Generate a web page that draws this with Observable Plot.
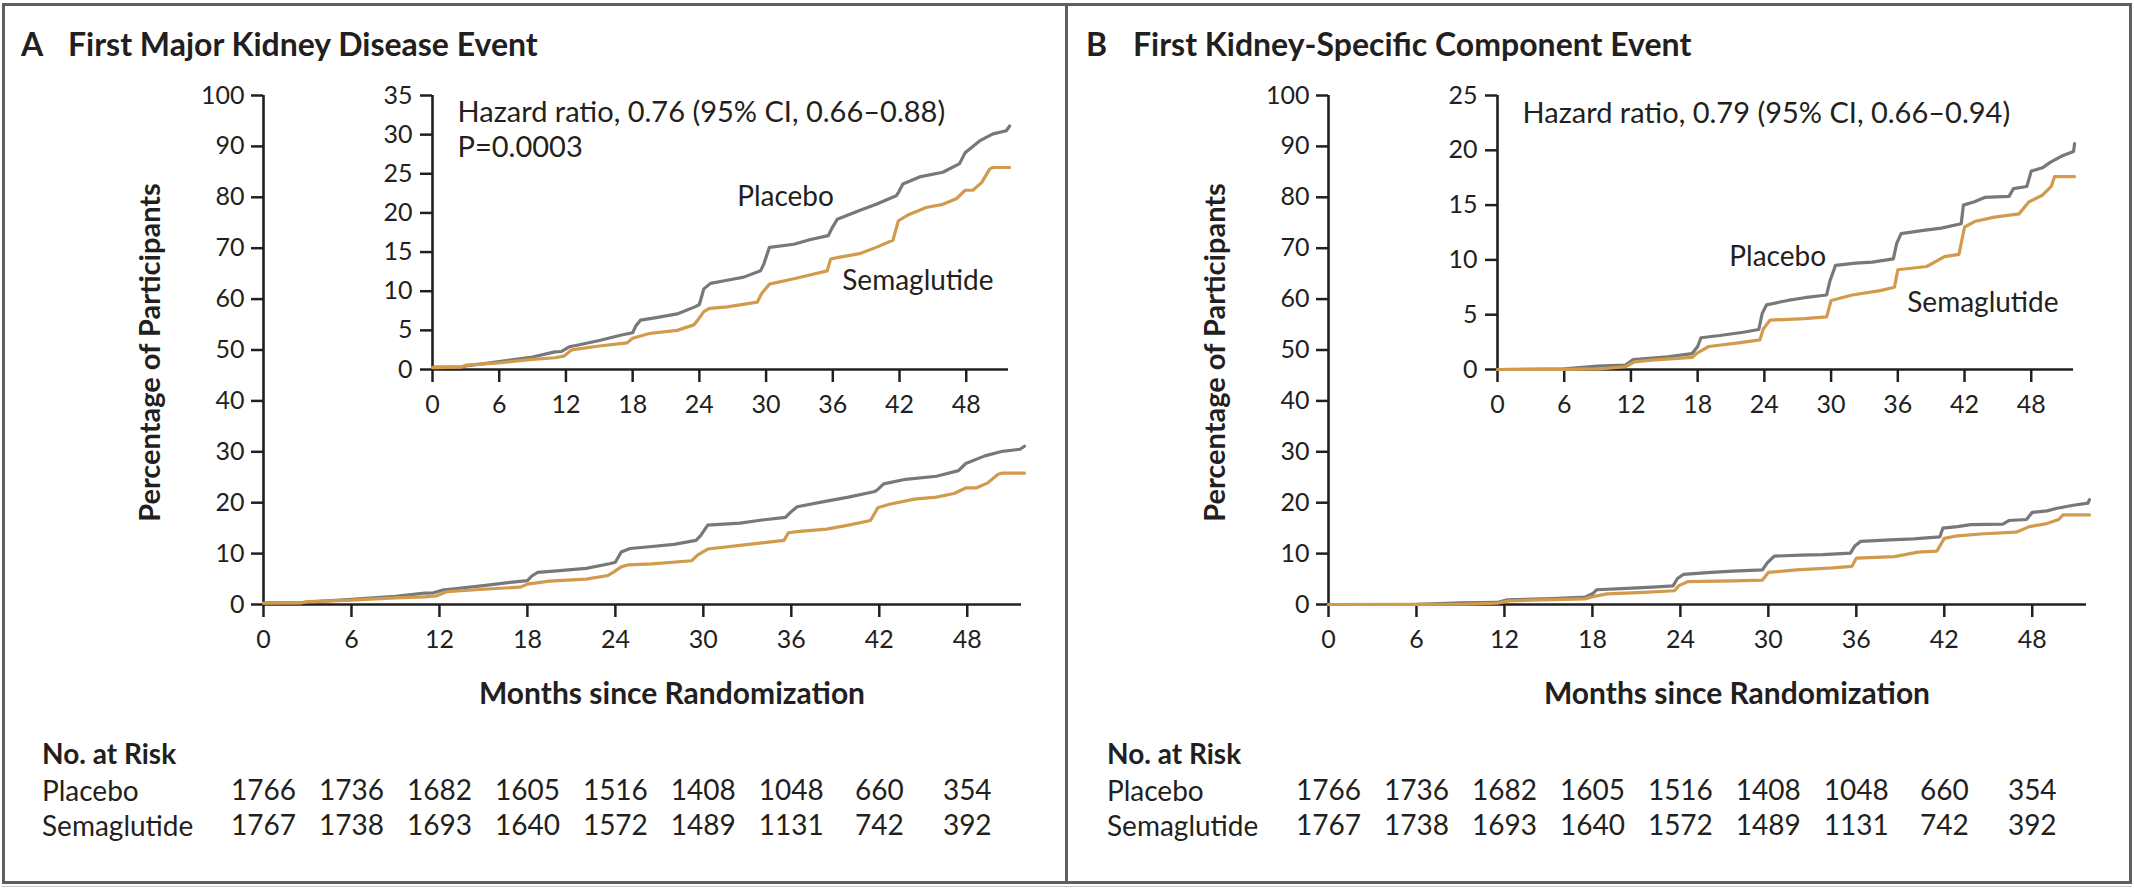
<!DOCTYPE html>
<html>
<head>
<meta charset="utf-8">
<script src="https://cdn.jsdelivr.net/npm/d3@7"></script>
<script src="https://cdn.jsdelivr.net/npm/@observablehq/plot@0.6"></script>
<style>
  body { margin: 0; background: #fff; }
  #fig { position: relative; width: 2134px; height: 890px; overflow: hidden; background: #fff;
         font-family: Lato, "Open Sans", sans-serif; color: #231f20; }
  .t { position: absolute; white-space: nowrap; line-height: 1; }
  .b { font-weight: 700; }
  .rule { position: absolute; background: #5e5e5e; }
</style>
</head>
<body>
<div id="fig"></div>
<script>
// ---------------- data ----------------
const riskMonths = [0, 6, 12, 18, 24, 30, 36, 42, 48];
const riskPlacebo = [1766, 1736, 1682, 1605, 1516, 1408, 1048, 660, 354];
const riskSemaglutide = [1767, 1738, 1693, 1640, 1572, 1489, 1131, 742, 392];

const xTicks = [0, 6, 12, 18, 24, 30, 36, 42, 48];
const mainYTicks = [0, 10, 20, 30, 40, 50, 60, 70, 80, 90, 100];
const insetYTicksA = [0, 5, 10, 15, 20, 25, 30, 35];
const insetYTicksB = [0, 5, 10, 15, 20, 25];

// Panel A: first major kidney disease event (cumulative %)
const aPlaceboMonth = [0, 2.5, 3, 6, 9, 11, 11.6, 12.3, 13, 15, 17, 18, 18.3, 18.7, 20, 22, 23.6, 24.0, 24.4, 25, 26.5, 28, 29.5, 29.8, 30.3, 32.5, 34, 35.6, 35.9, 36.4, 38.4, 39.9, 41.7, 41.9, 42.3, 43.8, 45.9, 47.4, 47.9, 49.2, 50.4, 51.6, 51.9];
const aPlaceboPct   = [0.3, 0.3, 0.45, 1.0, 1.6, 2.25, 2.3, 2.9, 3.1, 3.7, 4.4, 4.7, 5.6, 6.3, 6.6, 7.1, 8.0, 8.3, 10.3, 11.0, 11.4, 11.8, 12.6, 13.5, 15.6, 16.0, 16.6, 17.1, 18.0, 19.2, 20.3, 21.1, 22.2, 22.6, 23.7, 24.6, 25.2, 26.3, 27.7, 29.2, 30.1, 30.5, 31.1];
const aSemaMonth = [0, 2.5, 3, 6, 9, 11, 11.8, 12.5, 15, 17.5, 18, 19.5, 22, 23.5, 23.9, 24.4, 24.9, 26.5, 29.2, 29.6, 30.3, 32.5, 35.5, 35.8, 36.4, 38.4, 39.9, 41.4, 41.9, 42.7, 44.4, 45.9, 47.1, 47.9, 48.6, 49.4, 50.1, 50.4, 51.9];
const aSemaPct   = [0.25, 0.3, 0.55, 0.85, 1.3, 1.5, 1.7, 2.5, 3.0, 3.4, 4.0, 4.6, 5.0, 5.7, 6.4, 7.4, 7.8, 8.0, 8.6, 9.7, 10.9, 11.6, 12.6, 14.1, 14.3, 14.8, 15.6, 16.5, 19.0, 19.7, 20.7, 21.1, 21.8, 22.9, 22.9, 23.9, 25.6, 25.8, 25.8];

// Panel B: first kidney-specific component event (cumulative %)
const bPlaceboMonth = [0, 6, 9, 11.5, 12.2, 15.3, 17.5, 18, 18.3, 20, 22.1, 23.5, 23.8, 24.2, 26.1, 27.6, 29.6, 29.9, 30.4, 32.2, 33.7, 35.6, 35.9, 36.3, 38.3, 39.9, 41.7, 41.9, 42.9, 43.8, 46.0, 46.4, 47.6, 48.0, 49.0, 49.7, 50.8, 51.8, 51.9];
const bPlaceboPct   = [0, 0.05, 0.3, 0.4, 0.9, 1.15, 1.45, 2.1, 2.9, 3.1, 3.4, 3.65, 5.1, 5.9, 6.3, 6.55, 6.8, 8.1, 9.5, 9.7, 9.8, 10.1, 11.5, 12.4, 12.7, 12.9, 13.3, 15.0, 15.3, 15.7, 15.8, 16.5, 16.7, 18.1, 18.4, 18.9, 19.5, 19.9, 20.6];
const bSemaMonth = [0, 6, 9.2, 11.5, 12.3, 13.9, 17.5, 17.95, 19.0, 21.5, 23.6, 23.9, 24.5, 27.6, 29.6, 30.0, 31.9, 34.4, 35.7, 36.0, 38.6, 40.2, 41.5, 42.0, 42.9, 44.7, 46.9, 47.8, 49.0, 49.8, 50.1, 51.9];
const bSemaPct   = [0, 0.02, 0.06, 0.25, 0.7, 0.85, 1.1, 1.5, 2.1, 2.4, 2.7, 3.7, 4.5, 4.65, 4.8, 6.3, 6.8, 7.2, 7.5, 9.1, 9.4, 10.3, 10.5, 13.0, 13.5, 13.9, 14.2, 15.3, 15.9, 16.7, 17.6, 17.6];

const titles = ["First Major Kidney Disease Event", "First Kidney-Specific Component Event"];
const letters = ["A", "B"];
const hazardText = ["Hazard ratio, 0.76 (95% CI, 0.66\u20130.88)", "Hazard ratio, 0.79 (95% CI, 0.66\u20130.94)"];
const pText = ["P=0.0003", null];
// annotation anchors in data units (month, %)
const noteA = [{m: 2.25, v: 32.8, s: hazardText[0], f: 29}, {m: 2.25, v: 28.3, s: pText[0], f: 29}, {m: 27.4, v: 22.05, s: "Placebo", f: 28}, {m: 36.85, v: 11.3, s: "Semaglutide", f: 28}];
const noteB = [{m: 2.25, v: 23.3, s: hazardText[1], f: 29}, {m: 20.85, v: 10.3, s: "Placebo", f: 28}, {m: 36.85, v: 6.1, s: "Semaglutide", f: 28}];

// ---------------- drawing ----------------
const GRAY = "#787878", ORANGE = "#d29a4c", INK = "#231f20", FONT = "Lato, 'Open Sans', sans-serif";
const fig = document.getElementById("fig");

function rows(ms, vs) { return ms.map((m, i) => ({m, v: vs[i]})); }
function put(el, left, top) { el.style.position = "absolute"; el.style.left = left + "px"; el.style.top = top + "px"; fig.appendChild(el); return el; }
function text(str, left, baseline, fs, bold, extra) {
  const d = document.createElement("div");
  d.className = "t" + (bold ? " b" : "");
  d.textContent = str;
  d.style.fontSize = fs + "px";
  d.style.left = left + "px";
  d.style.top = (baseline - 0.89 * fs) + "px";
  if (extra) Object.assign(d.style, extra);
  fig.appendChild(d);
  return d;
}
function rule(l, t, w, h, c) { const d = document.createElement("div"); d.className = "rule"; Object.assign(d.style, {left: l + "px", top: t + "px", width: w + "px", height: h + "px"}); if (c) d.style.background = c; fig.appendChild(d); }

const baseStyle = {background: "transparent", fontFamily: FONT, fontSize: "25px", color: INK, overflow: "visible"};

function panel(k, ox, placebo, sema, insetMax, insetTicks, notes) {
  // main chart
  put(Plot.plot({
    width: 1065, height: 680, marginLeft: 263, marginRight: 44, marginTop: 95, marginBottom: 76,
    x: {domain: [0, 51.7]}, y: {domain: [0, 100]},
    style: baseStyle,
    marks: [
      Plot.axisX({ticks: xTicks, tickSize: 13, tickPadding: 13, strokeWidth: 2.5, label: null}),
      Plot.axisY({ticks: mainYTicks, tickSize: 12, tickPadding: 7, strokeWidth: 2.5, label: null}),
      Plot.ruleX([0], {stroke: INK, strokeWidth: 2.6}),
      Plot.ruleY([0], {stroke: INK, strokeWidth: 2.6}),
      Plot.line(placebo, {x: "m", y: "v", stroke: GRAY, strokeWidth: 3.2}),
      Plot.line(sema, {x: "m", y: "v", stroke: ORANGE, strokeWidth: 3.2})
    ]
  }), ox, 0);

  // inset chart
  put(Plot.plot({
    width: 1065, height: 440, marginLeft: 432, marginRight: 57, marginTop: 95, marginBottom: 71,
    x: {domain: [0, 51.8]}, y: {domain: [0, insetMax]},
    style: baseStyle,
    marks: [
      Plot.axisX({ticks: xTicks, tickSize: 13, tickPadding: 13, strokeWidth: 2.5, label: null}),
      Plot.axisY({ticks: insetTicks, tickSize: 12, tickPadding: 8, strokeWidth: 2.5, label: null}),
      Plot.ruleX([0], {stroke: INK, strokeWidth: 2.6}),
      Plot.ruleY([0], {stroke: INK, strokeWidth: 2.6}),
      Plot.line(placebo, {x: "m", y: "v", stroke: GRAY, strokeWidth: 3.2}),
      Plot.line(sema, {x: "m", y: "v", stroke: ORANGE, strokeWidth: 3.2}),
      Plot.text(notes, {x: "m", y: "v", text: "s", fontSize: "f", textAnchor: "start", lineAnchor: "middle", fill: INK})
    ]
  }), ox, 0);

  // numbers at risk
  const riskRows = riskMonths.flatMap((m, i) => [
    {m, g: "Placebo", n: riskPlacebo[i]},
    {m, g: "Semaglutide", n: riskSemaglutide[i]}
  ]);
  put(Plot.plot({
    width: 1065, height: 130, marginLeft: 263, marginRight: 44, marginTop: 0, marginBottom: 0,
    x: {domain: [0, 51.7], axis: null},
    y: {type: "point", domain: ["Placebo", "Semaglutide"], range: [61, 96], padding: 0, axis: null},
    style: baseStyle,
    marks: [Plot.text(riskRows, {x: "m", y: "g", text: d => String(d.n), fontSize: 28, fill: INK, lineAnchor: "middle"})]
  }), ox, 730);

  // titles and labels
  text(letters[k], ox + 21, 56, 32, true);
  text(titles[k], ox + 68, 56, 32, true);
  text("Months since Randomization", ox + 672, 704, 30, true, {transform: "translateX(-50%)"});
  const yt = text("Percentage of Participants", ox + 148 - 250, 0, 29, true,
    {width: "500px", textAlign: "center", transform: "rotate(-90deg)", transformOrigin: "50% 50%"});
  yt.style.top = (352 - 14.5) + "px";
  yt.style.height = "29px";
  text("No. at Risk", ox + 42, 764, 28, true);
  text("Placebo", ox + 42, 801, 28, false);
  text("Semaglutide", ox + 42, 836, 28, false);
}

panel(0, 0, rows(aPlaceboMonth, aPlaceboPct), rows(aSemaMonth, aSemaPct), 35, insetYTicksA, noteA);
panel(1, 1065, rows(bPlaceboMonth, bPlaceboPct), rows(bSemaMonth, bSemaPct), 25, insetYTicksB, noteB);

// frame
rule(2, 3, 2130, 3);
rule(2, 3, 3, 881);
rule(2129, 3, 3, 881);
rule(1065, 3, 3, 881);
rule(2, 881, 2130, 3);
rule(2, 886, 2130, 1, "#c8c8c8");
</script>
</body>
</html>
